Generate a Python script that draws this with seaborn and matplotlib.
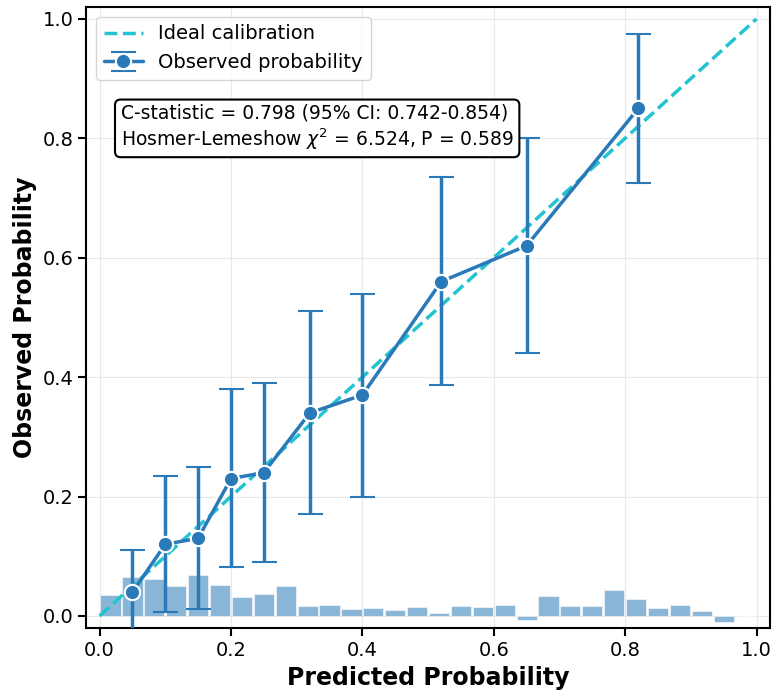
import numpy as np
import matplotlib
matplotlib.use("Agg")
import matplotlib.pyplot as plt
import seaborn as sns

# calibration bins
pred_prob = [0.05, 0.10, 0.15, 0.20, 0.25, 0.32, 0.40, 0.52, 0.65, 0.82]
obs_prob = [0.04, 0.12, 0.13, 0.23, 0.24, 0.34, 0.37, 0.56, 0.62, 0.85]
ci_low = [-0.03, 0.007, 0.012, 0.082, 0.09, 0.17, 0.20, 0.386, 0.44, 0.725]
ci_high = [0.11, 0.235, 0.25, 0.38, 0.39, 0.51, 0.54, 0.735, 0.80, 0.975]

# distribution of predicted probabilities (30 bins over 0-1, scaled heights)
hist_heights = [0.035, 0.066, 0.062, 0.050, 0.068, 0.052, 0.032, 0.037, 0.050, 0.017,
                0.019, 0.011, 0.014, 0.010, 0.015, 0.005, 0.017, 0.015, 0.019, -0.007,
                0.034, 0.017, 0.016, 0.044, 0.029, 0.014, 0.019, 0.009, -0.010, 0.0]
n_bins = 30

c_stat_text = "C-statistic = 0.798 (95% CI: 0.742-0.854)\nHosmer-Lemeshow $\\chi^2$ = 6.524, P = 0.589"

sns.set_style("whitegrid")
plt.rcParams['font.family'] = ['DejaVu Sans']
plt.rcParams['text.color'] = 'black'
plt.rcParams['axes.labelcolor'] = 'black'
plt.rcParams['xtick.color'] = 'black'
plt.rcParams['ytick.color'] = 'black'

fig, ax = plt.subplots(figsize=(7.72, 6.93), dpi=100)
fig.subplots_adjust(left=0.112, right=0.997, top=0.99, bottom=0.094)

bin_w = 1.0 / n_bins
centers = np.arange(n_bins) * bin_w + bin_w / 2
ax.bar(centers, hist_heights, width=bin_w * 0.92, color='#2878b5', alpha=0.55,
       edgecolor='white', linewidth=0.8, zorder=1)

ideal = np.array([0.0, 1.0])
sns.lineplot(x=ideal, y=ideal, ax=ax, color='#22c4d0', linestyle='--', linewidth=2.5,
             label='Ideal calibration', zorder=2)

yerr = [np.array(obs_prob) - np.array(ci_low), np.array(ci_high) - np.array(obs_prob)]
ax.errorbar(pred_prob, obs_prob, yerr=yerr, fmt='-o', color='#2a7ab9', linewidth=2.5,
            markersize=11, markeredgecolor='white', markeredgewidth=1.5,
            elinewidth=2.5, capsize=9, capthick=2.2, label='Observed probability', zorder=3)

ax.text(0.05, 0.845, c_stat_text, transform=ax.transAxes, fontsize=13.5, va='top',
        bbox=dict(boxstyle='round,pad=0.3', facecolor='white', edgecolor='black', linewidth=1.5))

ax.set_xlim(-0.02, 1.02)
ax.set_ylim(-0.02, 1.02)
ax.set_xticks(np.arange(0, 1.01, 0.2))
ax.set_yticks(np.arange(0, 1.01, 0.2))
ax.set_xlabel('Predicted Probability', fontsize=17, fontweight='bold')
ax.set_ylabel('Observed Probability', fontsize=17, fontweight='bold')
ax.tick_params(axis='both', labelsize=14, length=6, width=1.5, color='black', direction='out',
               bottom=True, left=True)
for s in ax.spines.values():
    s.set_color('black')
    s.set_linewidth(1.5)
ax.grid(True, color='#e8e8e8', linewidth=0.8)

ax.legend(loc='upper left', fontsize=14, frameon=True)

plt.savefig('out.png', dpi=100)
